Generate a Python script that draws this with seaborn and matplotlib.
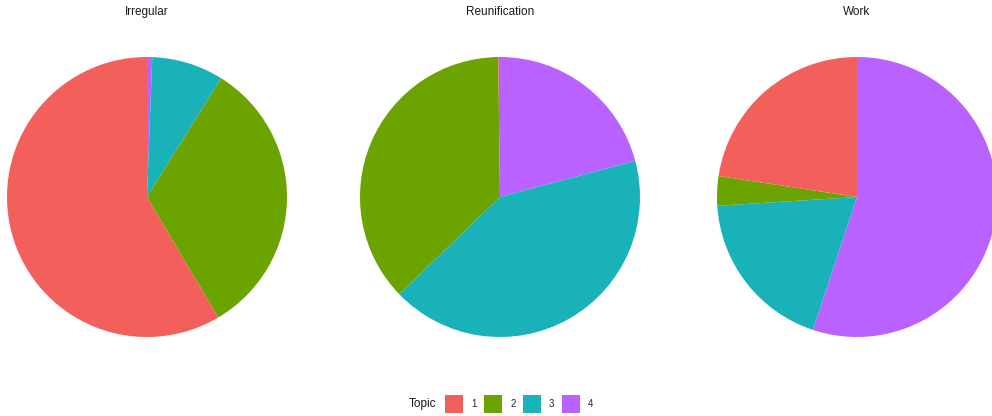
import matplotlib
matplotlib.use("Agg")
import matplotlib.pyplot as plt
from matplotlib.patches import Patch
import seaborn as sns

# ---- data (percent of each facet, by topic) ----
topics = ["1", "2", "3", "4"]
facets = ["Irregular", "Reunification", "Work"]
irregular = [58.5, 32.6, 8.3, 0.6]
reunification = [0.2, 37.0, 41.95, 20.85]
work = [22.6, 3.4, 18.9, 55.1]
values = [irregular, reunification, work]
topic_colors = ["#F35F5B", "#6BA300", "#19B2B8", "#B962FF"]

sns.set_theme(style="white")
plt.rcParams["font.family"] = ["Liberation Sans", "DejaVu Sans"]
palette = sns.color_palette(topic_colors)

W, H = 992, 416
fig = plt.figure(figsize=(W / 100, H / 100), dpi=100)
fig.patch.set_facecolor("white")

centers_x = [147, 500, 857]
cy = 197
R = 140

for name, vals, cx in zip(facets, values, centers_x):
    ax = fig.add_axes([(cx - R) / W, (H - cy - R) / H, 2 * R / W, 2 * R / H])
    # ggplot stacking: last topic first clockwise from 12 o'clock
    order = list(range(len(topics)))[::-1]
    ax.pie([vals[i] for i in order],
           colors=[palette[i] for i in order],
           startangle=90, counterclock=False, radius=1,
           wedgeprops=dict(linewidth=0, antialiased=True))
    ax.set_xlim(-1, 1)
    ax.set_ylim(-1, 1)
    ax.set_aspect("equal")
    ax.axis("off")
    fig.text(cx / W, (H - 12) / H, name, ha="center", va="center",
             fontsize=8.5, color="#1A1A1A")

# legend
fig.text(409 / W, (H - 404) / H, "Topic", ha="left", va="center",
         fontsize=8.5, color="#1A1A1A")
handles = [Patch(facecolor=palette[i], edgecolor="none", label=t)
           for i, t in enumerate(topics)]
fig.legend(handles=handles, loc="center left",
           bbox_to_anchor=(445 / W, (H - 404) / H),
           ncol=4, frameon=False, fontsize=7,
           handlelength=1.9, handleheight=2.6,
           handletextpad=0.8, columnspacing=0.75,
           borderpad=0, borderaxespad=0)

fig.savefig("out.png", dpi=100, facecolor="white")
